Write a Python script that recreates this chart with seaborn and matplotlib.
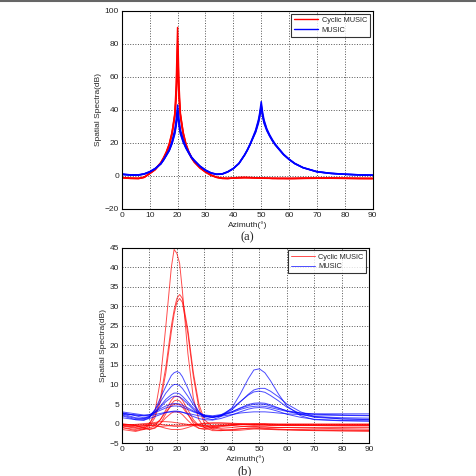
import matplotlib
matplotlib.use("Agg")
import matplotlib.pyplot as plt
import seaborn as sns
import pandas as pd
from matplotlib.lines import Line2D

# Panel (a): azimuth grid and spectra of three trials per method
az_a = [0, 3, 6, 8, 10, 12, 14, 15, 16, 17, 18, 19, 19.5, 20, 20.5, 21, 22, 23, 24, 25, 26,
        28, 30, 32, 34, 36, 38, 40, 42, 44, 45, 46, 47, 48, 49, 49.5, 50, 50.5, 51, 52, 53,
        54, 55, 56, 58, 60, 62, 65, 70, 75, 80, 85, 90]

cyc_a1 = [-1.0, -1.4, -1.5, -0.8, 1.5, 4, 8, 11, 14.5, 19, 26, 38, 55, 90, 55, 38, 26, 19, 14.5, 11, 8.5,
          5, 2.5, 0.5, -0.8, -1.4, -1.5, -1.3, -1.1, -1.0, -1.0, -1.0, -1.1, -1.2, -1.2, -1.3, -1.3,
          -1.3, -1.3, -1.4, -1.4, -1.5, -1.5, -1.5, -1.5, -1.5, -1.5, -1.4, -1.3, -1.3, -1.4, -1.5, -1.5]
cyc_a2 = [-1.1, -1.5, -1.6, -0.9, 1.4, 3.8, 7.8, 10.8, 14, 18.5, 25, 36, 50, 80, 50, 36, 25, 18.5, 14, 10.8, 8.3,
          4.8, 2.3, 0.3, -0.9, -1.5, -1.6, -1.2, -0.9, -0.8, -0.9, -1.0, -1.0, -1.1, -1.2, -1.2, -1.2,
          -1.3, -1.3, -1.3, -1.4, -1.4, -1.4, -1.5, -1.5, -1.6, -1.6, -1.5, -1.4, -1.4, -1.5, -1.6, -1.6]
cyc_a3 = [-0.9, -1.3, -1.4, -0.7, 1.6, 4.2, 8.2, 11.2, 14.8, 19.5, 26.5, 37, 47, 70, 47, 37, 26.5, 19.5, 14.8, 11.2, 8.7,
          5.2, 2.7, 0.6, -0.7, -1.3, -1.4, -1.3, -1.2, -1.1, -1.1, -1.1, -1.2, -1.2, -1.3, -1.3, -1.3,
          -1.3, -1.4, -1.4, -1.4, -1.5, -1.5, -1.5, -1.5, -1.5, -1.4, -1.3, -1.3, -1.2, -1.3, -1.4, -1.5]

mus_a1 = [1.0, 0.6, 0.6, 1.2, 2.5, 4.5, 7.5, 10, 13, 16, 21, 28, 34, 43, 34, 28, 22, 17.5, 14.5, 11.5, 9.5,
          6, 3.5, 1.8, 1.0, 1.2, 2.5, 4.5, 7.5, 12.5, 15.5, 19, 23, 27, 33, 37, 43,
          37, 33, 28, 24.5, 21.5, 19, 17, 13, 10, 7.5, 5, 2.5, 1.5, 1.0, 0.6, 0.4]
mus_a2 = [1.2, 0.7, 0.7, 1.3, 2.6, 4.6, 7.4, 9.8, 12.6, 15.5, 20, 26.5, 32, 40, 32, 26.5, 21, 17, 14, 11.2, 9.3,
          6, 3.6, 1.9, 1.1, 1.3, 2.6, 4.6, 7.6, 12.6, 15.6, 19, 22.8, 26.5, 32, 36, 42,
          36, 32, 27.5, 24.2, 21.3, 18.8, 16.8, 12.9, 10, 7.5, 5, 2.6, 1.6, 1.0, 0.7, 0.5]
mus_a3 = [0.9, 0.5, 0.5, 1.1, 2.4, 4.4, 7.3, 9.7, 12.5, 15.3, 19.5, 25.5, 30.5, 38, 30.5, 25.5, 20.5, 16.8, 13.8, 11, 9.1,
          5.8, 3.4, 1.7, 0.9, 1.1, 2.4, 4.4, 7.6, 12.8, 15.8, 19.4, 23.5, 27.8, 34, 38.5, 45,
          38.5, 34, 28.6, 25, 22, 19.4, 17.3, 13.2, 10.2, 7.7, 5.1, 2.6, 1.6, 1.1, 0.7, 0.5]

# Panel (b): coarser azimuth grid, more trials
az_b = [0, 5, 8, 10, 12, 14, 16, 18, 19, 20, 21, 22, 24, 26, 28, 30, 33, 36, 40, 43, 46, 48, 50,
        52, 54, 57, 60, 65, 70, 80, 90]

cyc_b = [
    [-1.0, -1.8, -1.3, -0.3, 3, 11, 25, 40, 44.5, 43.5, 41, 34, 18, 6.5, 1, -1, -1.8, -1.8, -1.5, -1.3, -1.2, -1.2, -1.3,
     -1.3, -1.4, -1.5, -1.6, -1.7, -1.8, -1.9, -2.0],
    [-0.5, -1.0, -0.8, 0, 2, 6.5, 14.5, 25, 29, 32, 33, 32, 24, 13, 5, 1, -0.8, -1.2, -1.0, -0.8, -0.7, -0.7, -0.8,
     -0.8, -0.9, -1.0, -1.0, -1.1, -1.2, -1.3, -1.4],
    [-1.5, -2.0, -1.5, -0.8, 1.5, 5.5, 13, 23.5, 28, 31, 32, 31, 23, 12, 4, 0, -1.5, -1.8, -1.6, -1.4, -1.2, -1.1, -1.1,
     -1.2, -1.3, -1.4, -1.5, -1.5, -1.6, -1.6, -1.7],
    [-0.5, -0.8, -0.5, -0.5, -0.2, 1, 3.5, 6, 6.8, 7, 6.8, 6, 3.5, 1, -0.5, -1.0, -0.8, -0.5, -0.3, -0.2, -0.3, -0.3, -0.3,
     -0.3, -0.4, -0.4, -0.5, -0.5, -0.5, -0.6, -0.6],
    [-0.2, -0.5, -1.0, -1.5, -1.2, 0, 2.5, 5, 5.8, 6, 5.8, 5, 2.5, 0, -1.2, -1.5, -1.3, -0.8, -0.5, -0.3, -0.3, -0.4, -0.4,
     -0.4, -0.5, -0.5, -0.5, -0.5, -0.5, -0.5, -0.5],
    [0.0, -0.5, -1.2, -1.5, -1.0, 0, 1.5, 2.7, 3, 3, 2.8, 2.3, 0.8, -0.5, -1.2, -1.3, -1.0, -0.6, -0.3, -0.2, -0.2, -0.3, -0.3,
     -0.3, -0.3, -0.3, -0.3, -0.3, -0.3, -0.3, -0.3],
    [-0.3, -0.5, -0.3, 0, 0.3, 0.5, 0.5, 0.4, 0.3, 0.2, 0.1, 0, -0.2, -0.3, -0.2, 0, 0.1, 0.1, 0, -0.1, -0.1, -0.1, -0.1,
     -0.1, -0.1, -0.2, -0.2, -0.2, -0.2, -0.2, -0.2],
    [-1.0, -1.5, -1.0, -0.5, -0.5, -0.8, -1.2, -1.5, -1.5, -1.5, -1.5, -1.4, -1.0, -0.5, -0.3, -0.5, -1.0, -1.5, -1.8, -1.7, -1.5, -1.4, -1.4,
     -1.5, -1.5, -1.6, -1.6, -1.7, -1.7, -1.8, -1.8],
    [-0.6, -1.2, -1.5, -1.2, -0.5, 1, 3, 4.5, 5, 5, 4.8, 4.2, 2.3, 0.5, -0.6, -0.8, -0.5, -0.3, -0.5, -0.7, -0.8, -0.8, -0.9,
     -0.9, -1.0, -1.0, -1.0, -1.0, -1.0, -1.0, -1.0],
    [-0.2, -0.3, -0.4, -0.5, -0.6, -0.7, -0.6, -0.5, -0.4, -0.4, -0.4, -0.4, -0.3, -0.2, -0.1, 0.1, 0.2, 0.2, 0.1, 0, -0.1, -0.2, -0.2,
     -0.2, -0.3, -0.3, -0.3, -0.3, -0.4, -0.4, -0.4],
    [-0.4, -0.2, 0.0, 0.1, 0.0, -0.2, -0.4, -0.6, -0.7, -0.7, -0.7, -0.6, -0.5, -0.4, -0.4, -0.5, -0.6, -0.5, -0.3, -0.2, -0.1, 0, 0,
     0, -0.1, -0.1, -0.1, -0.1, -0.1, -0.1, -0.1],
]

mus_b = [
    [2.0, 1.0, 0.8, 1.5, 3.5, 6.5, 9.5, 12.3, 13, 13.3, 13, 12, 9, 5.5, 3, 1.5, 1.0, 1.8, 4, 7.5, 11.5, 13.7, 14,
     13, 11, 7.5, 4.5, 2, 1.0, 0.7, 0.6],
    [2.5, 1.5, 1.3, 1.8, 3.5, 5.5, 7.8, 9.5, 10, 10, 9.7, 9, 7, 4.8, 3, 2, 1.5, 2, 3.5, 5.5, 7.5, 8.6, 9,
     9, 8.3, 6.8, 5, 3, 1.8, 1.2, 1.0],
    [2.8, 2.0, 1.5, 1.8, 3, 4.5, 6.2, 7.4, 7.8, 7.8, 7.6, 7, 5.5, 4, 2.8, 2, 1.6, 2.2, 3.8, 5.6, 7.3, 8.1, 8.3,
     8, 7.2, 5.8, 4.2, 2.5, 1.6, 1.2, 1.1],
    [2.2, 1.3, 1.2, 1.6, 2.8, 4.2, 5.6, 6.7, 7, 7, 6.8, 6.3, 5, 3.6, 2.5, 1.8, 1.6, 2, 3, 4, 4.9, 5.2, 5.3,
     5.2, 4.8, 4, 3.2, 2.3, 1.8, 1.5, 1.4],
    [3.0, 2.5, 2.2, 2.3, 3, 3.8, 4.5, 5, 5.1, 5.1, 5, 4.7, 4, 3.2, 2.6, 2.2, 2, 2.3, 3, 3.9, 4.6, 4.9, 5,
     4.9, 4.5, 3.9, 3.3, 2.7, 2.4, 2.2, 2.1],
    [2.6, 2.2, 2.0, 2.2, 2.8, 3.4, 4, 4.4, 4.5, 4.5, 4.4, 4.2, 3.6, 3, 2.5, 2.1, 1.8, 2.1, 2.8, 3.6, 4.2, 4.4, 4.5,
     4.4, 4.1, 3.6, 3.1, 2.7, 2.5, 2.5, 2.5],
    [2.5, 2.2, 2.0, 2.0, 2.3, 2.6, 2.9, 3.0, 3.0, 3.0, 3.0, 2.9, 2.6, 2.3, 2.0, 1.8, 1.7, 1.9, 2.3, 2.7, 2.9, 3.0, 3.0,
     3.0, 2.9, 2.7, 2.5, 2.3, 2.2, 2.1, 2.0],
    [1.5, 1.0, 1.0, 1.3, 1.8, 2.3, 2.8, 3.1, 3.2, 3.2, 3.1, 2.9, 2.4, 1.8, 1.3, 1.0, 0.9, 1.3, 2.2, 3, 3.7, 4, 4.1,
     4, 3.7, 3.1, 2.4, 1.6, 1.1, 0.8, 0.7],
]

methods = ["Cyclic MUSIC", "MUSIC"]
colors = {"Cyclic MUSIC": "#ff0000", "MUSIC": "#0000ff"}


def to_frame(az, cyc, mus):
    rows = []
    for name, trials in zip(methods, [cyc, mus]):
        for k, vals in enumerate(trials):
            for a, v in zip(az, vals):
                rows.append({"Azimuth": a, "dB": v, "Method": name, "trial": k})
    return pd.DataFrame(rows)


df_a = to_frame(az_a, [cyc_a1, cyc_a2, cyc_a3], [mus_a1, mus_a2, mus_a3])
df_b = to_frame(az_b, cyc_b, mus_b)

sns.set_style("white")
plt.rcParams["font.family"] = ["Liberation Sans", "DejaVu Sans"]

fig = plt.figure(figsize=(4.76, 4.76), dpi=100)
ax1 = fig.add_axes([0.256, 0.561, 0.527, 0.416])
ax2 = fig.add_axes([0.256, 0.069, 0.52, 0.411])

sns.lineplot(data=df_a, x="Azimuth", y="dB", hue="Method", units="trial", estimator=None,
             palette=colors, linewidth=1.1, legend=False, ax=ax1)
sns.lineplot(data=df_b, x="Azimuth", y="dB", hue="Method", units="trial", estimator=None,
             palette=colors, linewidth=0.7, alpha=0.7, legend=False, ax=ax2)

for ax, lo, hi, step, lw, al in [(ax1, -20, 100, 20, 1.0, 1.0), (ax2, -5, 45, 5, 0.7, 0.7)]:
    ax.set_xlim(0, 90)
    ax.set_ylim(lo, hi)
    ax.set_xticks(range(0, 91, 10))
    ax.set_yticks(range(lo, hi + 1, step))
    ax.grid(True, linestyle=":", color="#555555", linewidth=0.7)
    ax.tick_params(direction="in", length=3, labelsize=6, width=0.6, pad=2)
    for s in ax.spines.values():
        s.set_color("black")
        s.set_linewidth(0.8)
    ax.set_xlabel("Azimuth(°)", fontsize=6, labelpad=2)
    ax.set_ylabel("Spatial Spectra(dB)", fontsize=6, labelpad=2)
    handles = [Line2D([], [], color=colors[m], lw=lw, alpha=al) for m in methods]
    leg = ax.legend(handles, methods, loc="upper right", fontsize=5.3, frameon=True, fancybox=False,
                    edgecolor="black", handlelength=3.2, handletextpad=0.5, borderpad=0.4,
                    labelspacing=0.35, borderaxespad=0.4)
    leg.get_frame().set_linewidth(0.8)

fig.text(0.52, 0.502, "(a)", ha="center", va="center", fontsize=9, family="Liberation Serif")
fig.text(0.515, 0.01, "(b)", ha="center", va="center", fontsize=9, family="Liberation Serif")
fig.add_artist(Line2D([0, 1], [0.998, 0.998], transform=fig.transFigure, color="#666666", lw=1.5))

fig.savefig("out.png", dpi=100)
